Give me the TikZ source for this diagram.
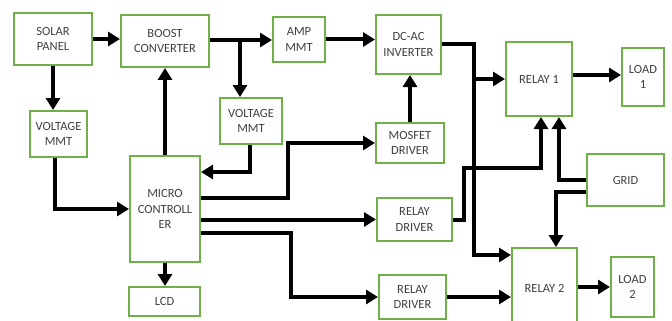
\documentclass[tikz,border=0pt]{standalone}
\usepackage{fontspec}
\setmainfont{Carlito}
\usetikzlibrary{arrows.meta,calc}
\definecolor{boxgreen}{RGB}{112,176,72}
\definecolor{textgray}{RGB}{64,64,64}
\begin{document}
\begin{tikzpicture}[x=1pt,y=-1pt,
  blk/.style={draw=boxgreen, line width=2pt, fill=white, align=center, text=textgray,
    inner sep=0pt, font=\fontsize{12.5}{15.5}\selectfont},
  wire/.style={line width=4pt, draw=black},
  arr/.style={wire, -{Triangle[length=12pt,width=14pt]}}]
\useasboundingbox (0,0) rectangle (672,321);
\fill[white] (0,0) rectangle (672,321);
\begin{scope}
\clip (0,0) rectangle (672,321);
\node[blk, minimum width=78pt, minimum height=52pt] (solar) at (53,39) {SOLAR\\PANEL};
\node[blk, minimum width=88pt, minimum height=52pt] (boost) at (165,41) {BOOST\\CONVERTER};
\node[blk, minimum width=52pt, minimum height=45pt] (amp) at (299,39.5) {AMP\\MMT};
\node[blk, minimum width=57pt, minimum height=46pt] (vl) at (58.5,134) {VOLTAGE\\MMT};
\node[blk, minimum width=62pt, minimum height=46pt] (vm) at (251,121) {VOLTAGE\\MMT};
\node[blk, minimum width=65pt, minimum height=59pt] (dcac) at (408.5,44.5) {DC-AC\\INVERTER};
\node[blk, minimum width=66pt, minimum height=74pt] (relay1) at (539,79) {RELAY 1};
\node[blk, minimum width=42pt, minimum height=58pt] (load1) at (643,77) {LOAD\\1};
\node[blk, minimum width=68pt, minimum height=40pt] (mosfet) at (410,143) {MOSFET\\DRIVER};
\node[blk, minimum width=77pt, minimum height=52pt] (grid) at (625.5,180) {GRID};
\node[blk, minimum width=75pt, minimum height=43pt] (rd1) at (414.5,219.5) {RELAY\\DRIVER};
\node[blk, minimum width=65pt, minimum height=80pt] (relay2) at (544.5,288) {RELAY 2};
\node[blk, minimum width=43pt, minimum height=60pt] (load2) at (632.5,287) {LOAD\\2};
\node[blk, minimum width=67pt, minimum height=44pt] (rd2) at (412.5,297) {RELAY\\DRIVER};
\node[blk, minimum width=70pt, minimum height=106pt] (micro) at (165,209) {MICRO\\CONTROLL\\ER};
\node[blk, minimum width=71pt, minimum height=29pt] (lcd) at (164.5,301.5) {LCD};

\coordinate (j1) at (240,40);
\coordinate (j2) at (474,79);
\coordinate (j3) at (541,168);

\draw[arr] (solar.east) -- (solar.east -| boost.west);
\draw[arr] (boost.east |- j1) -- (j1 -| amp.west);
\draw[arr] (j1) -- (j1 |- vm.north);
\draw[arr] (solar.south) -- (solar.south |- vl.north);
\draw[arr] ([xshift=-3.5pt]vl.south) |- (micro.west);
\draw[arr] (micro.north) -- (micro.north |- boost.south);
\draw[arr] (micro.south) -- (micro.south |- lcd.north);
\draw[arr] ([xshift=-1pt]vm.south) |- ($(micro.north east)+(0,17)$);
\draw[arr] (amp.east) -- (amp.east -| dcac.west);
\draw[arr] (mosfet.north) -- (mosfet.north |- dcac.south);
\draw[arr] ($(micro.north east)+(0,43)$) -- ++(87,0) |- (mosfet.west);
\draw[arr] (micro.east |- rd1.west) -- (rd1.west);
\draw[arr] ($(micro.north east)+(0,78)$) -- ++(90,0) |- (rd2.west);
\draw[arr] (dcac.east) -| (j2) -- (relay1.west);
\draw[arr] (j2) |- ($(relay2.north west)+(0,8)$);
\draw[arr] ($(relay1.east)+(0,-4)$) -- ($(relay1.east -| load1.west)+(0,-4)$);
\draw[arr] (relay2.east |- load2.west) -- (load2.west);
\draw[arr] (rd2.east) -- (rd2.east -| relay2.west);
\draw[arr] (rd1.east) -- ++(11,0) |- (j3) -- (j3 |- relay1.south);
\draw[arr] (grid.west) -| ($(relay1.south)+(20,0)$);
\draw[arr] ($(grid.west)+(0,12)$) -| ($(relay2.north)+(11.5,0)$);
\end{scope}
\end{tikzpicture}
\end{document}
